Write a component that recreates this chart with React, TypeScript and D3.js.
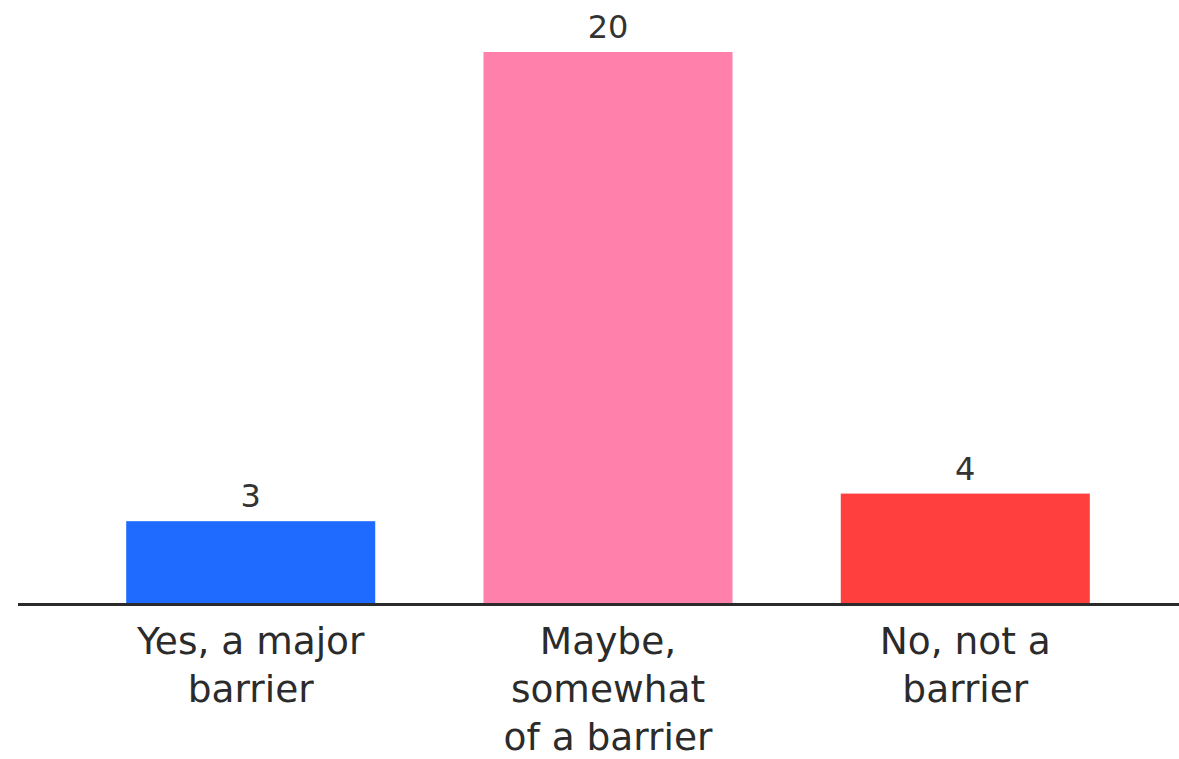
import React, { useEffect } from "react";
import * as d3 from "d3";

const categories: string[][] = [
  ["Yes, a major", "barrier"],
  ["Maybe,", "somewhat", "of a barrier"],
  ["No, not a", "barrier"],
];
const values: number[] = [3, 20, 4];
const colors: string[] = ["#1F6BFF", "#FF80AB", "#FF3E3E"];

const W = 1179;
const H = 759;

export default function App() {
  useEffect(() => {
    document.body.style.margin = "0";
  }, []);
  const x = d3
    .scaleBand<number>()
    .domain(values.map((_, i) => i))
    .range([72, 1144])
    .paddingInner(0.303)
    .paddingOuter(0.1517);
  const y = d3.scaleLinear().domain([0, 20]).range([604, 52]);
  const font = "'DejaVu Sans', sans-serif";
  return (
    <svg width={W} height={H} style={{ display: "block", background: "#fff" }}>
      {values.map((v, i) => (
        <g key={i}>
          <rect
            x={x(i)!}
            y={y(v)}
            width={x.bandwidth()}
            height={y(0) - y(v)}
            fill={colors[i]}
          />
          <text
            x={x(i)! + x.bandwidth() / 2}
            y={y(v) - 14}
            textAnchor="middle"
            fontFamily={font}
            fontSize={32}
            fill="#333"
          >
            {v}
          </text>
          {categories[i].map((line, j) => (
            <text
              key={j}
              x={x(i)! + x.bandwidth() / 2}
              y={y(0) + 50 + j * 48}
              textAnchor="middle"
              fontFamily={font}
              fontSize={37.5}
              fill="#2b2b2b"
            >
              {line}
            </text>
          ))}
        </g>
      ))}
      <line x1={18} x2={1179} y1={y(0) + 0.5} y2={y(0) + 0.5} stroke="#2b2b2b" strokeWidth={3} />
    </svg>
  );
}
